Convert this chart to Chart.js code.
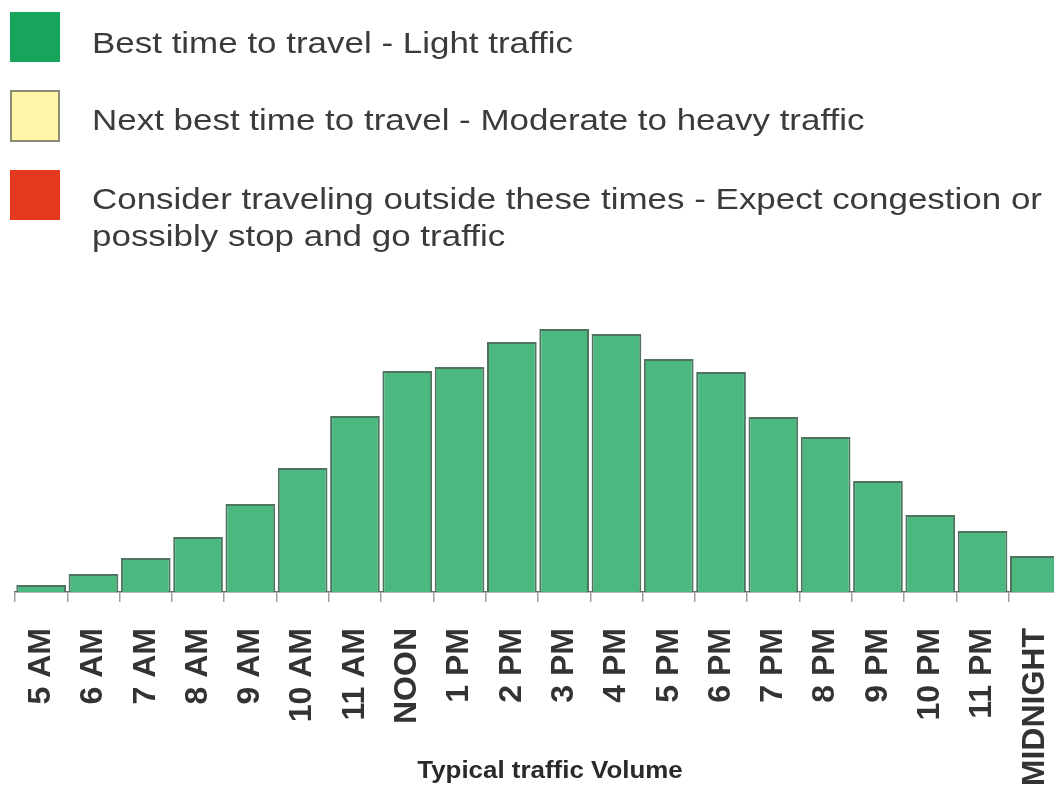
<!DOCTYPE html>
<html>
<head>
<meta charset="utf-8">
<script src="https://cdn.jsdelivr.net/npm/chart.js@4"></script>
<style>
  html, body { margin: 0; padding: 0; background: #fff; overflow: hidden; }
  body { width: 1054px; height: 790px; position: relative; }
  .box { position: absolute; left: 10px; width: 50px; height: 50px; box-sizing: border-box; }
  .txt { position: absolute; left: 92px; font-family: "Liberation Sans", Arial, sans-serif; font-size: 30px;
         line-height: 37px; color: #3b3b3b; white-space: nowrap; transform: scaleX(1.165); transform-origin: left top; }
  #wrap { position: absolute; left: 0; top: 0; width: 1070px; height: 790px; }
  #title { position: absolute; left: 550px; top: 756px; font-family: "Liberation Sans", Arial, sans-serif;
           font-weight: bold; font-size: 24px; color: #2a2a2a; white-space: nowrap;
           transform: translateX(-50%) scaleX(1.08); }
</style>
</head>
<body>
<div id="wrap"><canvas id="trafficChart"></canvas></div>

<!-- legenda -->
<div class="box" style="top:12px; background:#17a55b;"></div>
<div class="txt" style="top:24px;">Best time to travel - Light traffic</div>
<div class="box" style="top:90px; height:52px; background:#fff6a8; border:2px solid #8c8c74;"></div>
<div class="txt" style="top:101px;">Next best time to travel - Moderate to heavy traffic</div>
<div class="box" style="top:170px; background:#e5391f;"></div>
<div class="txt" style="top:180px;">Consider traveling outside these times - Expect congestion or<br>possibly stop and go traffic</div>

<div id="title">Typical traffic Volume</div>

<script>
// jam dalam sehari
var hours = ['5 AM', '6 AM', '7 AM', '8 AM', '9 AM', '10 AM', '11 AM', 'NOON', '1 PM', '2 PM',
             '3 PM', '4 PM', '5 PM', '6 PM', '7 PM', '8 PM', '9 PM', '10 PM', '11 PM', 'MIDNIGHT'];
// volume lalu lintas (perkiraan dari gambar)
var volume = [7, 18, 34, 55, 88, 124, 176, 221, 225, 250,
              263, 258, 233, 220, 175, 155, 111, 77, 61, 36];

document.addEventListener("DOMContentLoaded", function() {
    var ctx = document.getElementById('trafficChart').getContext('2d');

    var chart = new Chart(ctx, {
        type: 'bar',
        data: {
            labels: hours,
            datasets: [{
                label: 'Typical traffic Volume',
                data: volume,
                backgroundColor: '#4ab87f',
                borderColor: '#4e7460',
                borderWidth: 2,
                barPercentage: 0.95,
                categoryPercentage: 1.0
            }]
        },
        options: {
            responsive: true,
            maintainAspectRatio: false,
            animation: false,
            layout: { padding: { left: 15, right: 9, top: 292, bottom: 0 } },
            scales: {
                x: {
                    grid: {
                        display: true,
                        drawOnChartArea: false,
                        drawTicks: true,
                        tickLength: 10,
                        color: '#a89c9e',
                        lineWidth: 1.5
                    },
                    border: { display: true, color: '#66786c', width: 1.5 },
                    ticks: {
                        autoSkip: false,
                        minRotation: 90,
                        maxRotation: 90,
                        padding: 26,
                        color: '#333',
                        font: { family: "'Liberation Sans', Arial, sans-serif", size: 32, weight: 'bold' }
                    },
                    afterFit: function(scale) {
                        scale.height = 198;
                        scale.paddingLeft = 0;
                        scale.paddingRight = 0;
                    }
                },
                y: {
                    display: false,
                    beginAtZero: true,
                    min: 0,
                    max: 300
                }
            },
            plugins: {
                legend: { display: false },
                tooltip: { enabled: false }
            }
        }
    });
});
</script>
</body>
</html>
